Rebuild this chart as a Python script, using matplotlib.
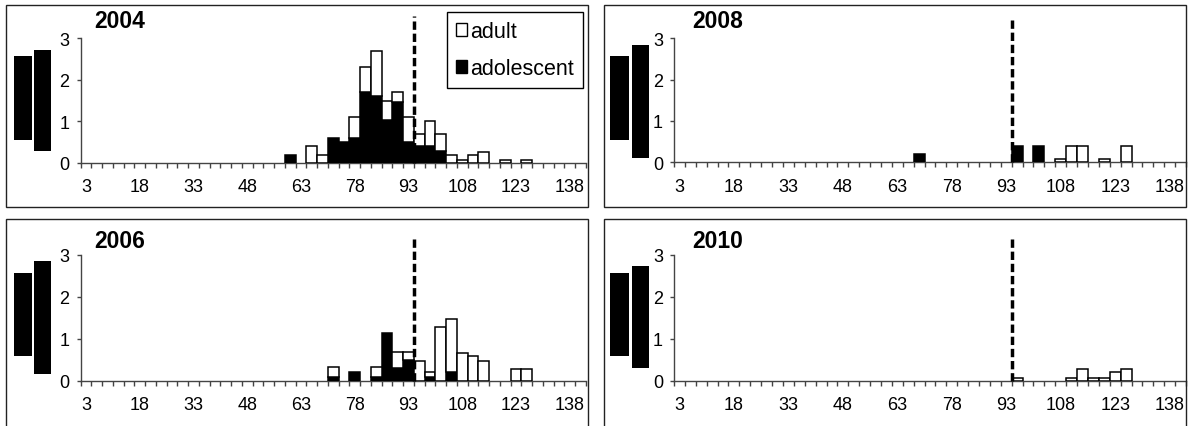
import matplotlib
matplotlib.use('Agg')
import matplotlib.pyplot as plt
from matplotlib.patches import Rectangle, Patch
import numpy as np

plt.rcParams['font.family'] = ['Liberation Sans', 'DejaVu Sans']

# ---------------- data ----------------
bins = list(range(3, 142, 3))          # 47 size classes: 3, 6, ..., 141
tick_values = [3, 18, 33, 48, 63, 78, 93, 108, 123, 138]
cutoff = 94.5                          # dashed reference line

#                3  6  9 12 15 18 21 24 27 30 33 36 39 42 45 48 51 54 57
adol_2004 = [0, 0, 0, 0, 0, 0, 0, 0, 0, 0, 0, 0, 0, 0, 0, 0, 0, 0, 0,
             # 60  63  66  69  72   75   78   81   84   87    90    93   96   99   102
             0.2, 0, 0, 0, 0.6, 0.5, 0.6, 1.7, 1.6, 1.03, 1.47, 0.5, 0.4, 0.4, 0.3,
             # 105 .. 141
             0, 0, 0, 0, 0, 0, 0, 0, 0, 0, 0, 0, 0]
adult_2004 = [0, 0, 0, 0, 0, 0, 0, 0, 0, 0, 0, 0, 0, 0, 0, 0, 0, 0, 0, 0, 0,
              # 66  69  72 75  78   81   84   87    90    93   96   99   102  105  108   111  114   117 120   123 126
              0.4, 0.2, 0, 0, 0.5, 0.6, 1.1, 0.47, 0.23, 0.6, 0.3, 0.6, 0.4, 0.2, 0.07, 0.2, 0.27, 0, 0.07, 0, 0.07,
              0, 0, 0, 0, 0]

adol_2006 = [0, 0, 0, 0, 0, 0, 0, 0, 0, 0, 0, 0, 0, 0, 0, 0, 0, 0, 0, 0, 0, 0, 0,
             # 72 75  78  81  84   87    90   93  96  99  102 105
             0.1, 0, 0.2, 0, 0.1, 1.13, 0.3, 0.5, 0, 0.1, 0, 0.2,
             0, 0, 0, 0, 0, 0, 0, 0, 0, 0, 0, 0]
adult_2006 = [0, 0, 0, 0, 0, 0, 0, 0, 0, 0, 0, 0, 0, 0, 0, 0, 0, 0, 0, 0, 0, 0, 0,
              # 72  75 78 81  84  87   90    93    96   99   102   105   108   111  114  117 120  123   126
              0.23, 0, 0, 0, 0.23, 0, 0.38, 0.18, 0.48, 0.1, 1.28, 1.28, 0.67, 0.6, 0.48, 0, 0, 0.28, 0.28,
              0, 0, 0, 0, 0]

adol_2008 = [0, 0, 0, 0, 0, 0, 0, 0, 0, 0, 0, 0, 0, 0, 0, 0, 0, 0, 0, 0, 0, 0,
             # 69 72 75 78 81 84 87 90 93  96  99  102
             0.2, 0, 0, 0, 0, 0, 0, 0, 0, 0.4, 0, 0.4,
             0, 0, 0, 0, 0, 0, 0, 0, 0, 0, 0, 0, 0]
adult_2008 = [0, 0, 0, 0, 0, 0, 0, 0, 0, 0, 0, 0, 0, 0, 0, 0, 0, 0, 0, 0, 0, 0,
              0, 0, 0, 0, 0, 0, 0, 0, 0, 0, 0, 0, 0,
              # 108 111  114  117 120  123 126
              0.07, 0.4, 0.4, 0, 0.07, 0, 0.4,
              0, 0, 0, 0, 0]

adol_2010 = [0] * 47
adult_2010 = [0, 0, 0, 0, 0, 0, 0, 0, 0, 0, 0, 0, 0, 0, 0, 0, 0, 0, 0, 0, 0, 0,
              0, 0, 0, 0, 0, 0, 0, 0, 0,
              # 96  99 102 105 108 111   114   117   120   123  126
              0.07, 0, 0, 0, 0, 0.07, 0.27, 0.07, 0.07, 0.2, 0.27,
              0, 0, 0, 0, 0]

series = {
    '2004': (adol_2004, adult_2004),
    '2006': (adol_2006, adult_2006),
    '2008': (adol_2008, adult_2008),
    '2010': (adol_2010, adult_2010),
}

# ---------------- layout (pixels) ----------------
W, H = 1188, 427
fig = plt.figure(figsize=(W / 100, H / 100), dpi=100)

layout = {
    '2004': dict(ax=(80.7, 586, 39.3, 164), frame=(6, 6, 588, 208), title=(120, 22),
                 rects=[(14, 57.3, 32, 140.7), (34, 51, 51, 151.7)], dash_top=3.53),
    '2008': dict(ax=(674, 1186, 39.3, 163.3), frame=(604, 6, 1186, 208), title=(718, 22),
                 rects=[(610, 57.3, 629, 140.7), (632, 46, 649, 159)], dash_top=3.45),
    '2006': dict(ax=(80.5, 586, 255.7, 381.7), frame=(6, 220, 588, 440), title=(120, 241.7),
                 rects=[(14, 274.3, 32, 356.7), (34, 262.3, 51, 375)], dash_top=3.45),
    '2010': dict(ax=(674, 1186, 255.7, 381.7), frame=(604, 220, 1186, 440), title=(718, 241.7),
                 rects=[(610, 274.3, 629, 356.7), (632, 267.3, 649, 369)], dash_top=3.45),
}


def fx(x):
    return x / W


def fy(y):
    return 1 - y / H


axis_col = '#444444'
bounds = np.arange(1.5, 143, 3)

for year, lay in layout.items():
    # panel frame
    x0, y0, x1, y1 = lay['frame']
    fig.patches.append(Rectangle((fx(x0), fy(y1)), fx(x1) - fx(x0), fy(y0) - fy(y1),
                                 transform=fig.transFigure, fill=False,
                                 edgecolor='#222222', linewidth=1.0, zorder=0))
    # black blocks on the left
    for (rx0, ry0, rx1, ry1) in lay['rects']:
        fig.patches.append(Rectangle((fx(rx0), fy(ry1)), fx(rx1) - fx(rx0), fy(ry0) - fy(ry1),
                                     transform=fig.transFigure, facecolor='black',
                                     edgecolor='none', zorder=1))

    ax_l, ax_r, ax_t, ax_b = lay['ax']
    ax = fig.add_axes([fx(ax_l), fy(ax_b), fx(ax_r) - fx(ax_l), fy(ax_t) - fy(ax_b)])
    ax.patch.set_alpha(0)

    adol, adult = (np.array(v, dtype=float) for v in series[year])
    x = np.array(bins, dtype=float)
    m1 = adol > 0
    ax.bar(x[m1], adol[m1], width=3, color='black', edgecolor='black', linewidth=1.1,
           align='center', zorder=3, label='adolescent')
    m2 = adult > 0
    ax.bar(x[m2], adult[m2], bottom=adol[m2], width=3, color='white', edgecolor='black',
           linewidth=1.1, align='center', zorder=3, label='adult')

    ax.plot([cutoff, cutoff], [0, lay['dash_top']], color='black', linewidth=2.5,
            linestyle=(0, (2.4, 1.1)), clip_on=False, zorder=4)

    ax.set_xlim(1.5, 142.5)
    ax.set_ylim(0, 3)
    for s in ('top', 'right'):
        ax.spines[s].set_visible(False)
    ax.spines['left'].set_bounds(0, 3)
    ax.spines['left'].set_color(axis_col)
    ax.spines['bottom'].set_color(axis_col)
    ax.spines['left'].set_linewidth(1.0)
    ax.spines['bottom'].set_linewidth(1.0)

    ax.set_yticks([0, 1, 2, 3])
    ax.set_yticklabels(['0', '1', '2', '3'])
    ax.tick_params(axis='y', length=3, width=1, color=axis_col, labelsize=13, pad=5)

    ax.set_xticks(tick_values)
    ax.set_xticklabels([str(v) for v in tick_values])
    ax.set_xticks(bounds, minor=True)
    ax.tick_params(axis='x', which='major', length=0, labelsize=13, pad=11)
    ax.tick_params(axis='x', which='minor', length=3.5, width=1, color=axis_col, direction='out')

    tx, ty = lay['title']
    fig.text(fx(tx), fy(ty), year, fontsize=16.5, fontweight='bold', ha='center', va='center')

    if year == '2004':
        handles = [Patch(facecolor='white', edgecolor='black', linewidth=1.0),
                   Patch(facecolor='black', edgecolor='black', linewidth=1.0)]
        leg = ax.legend(handles, ['adult', 'adolescent'], loc='upper left',
                        bbox_to_anchor=(fx(447), fy(13)), bbox_transform=fig.transFigure,
                        fontsize=15.5, frameon=True, fancybox=False, framealpha=1,
                        edgecolor='black', handlelength=0.5, handleheight=0.55,
                        handletextpad=0.15, labelspacing=0.75, borderpad=0.42,
                        borderaxespad=0)
        leg.get_frame().set_linewidth(1.0)

fig.savefig('out.png', dpi=100)
